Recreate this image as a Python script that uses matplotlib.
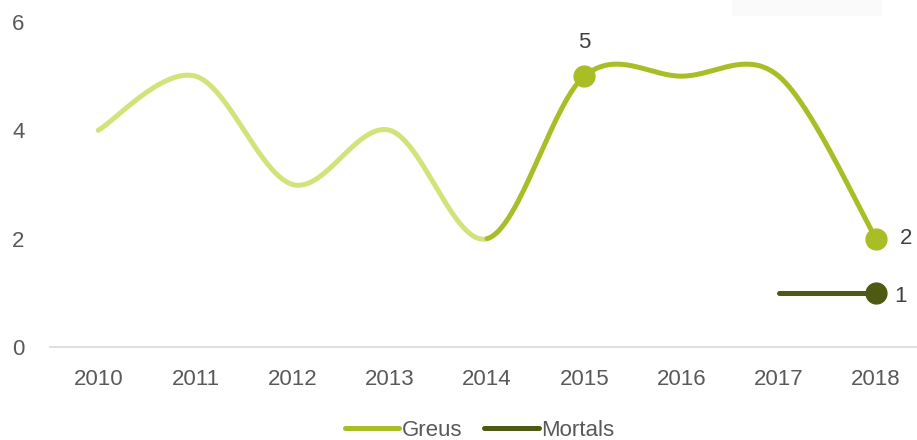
import numpy as np
import matplotlib

matplotlib.use("Agg")
import matplotlib.pyplot as plt
from matplotlib.patches import Rectangle

years = [2010, 2011, 2012, 2013, 2014, 2015, 2016, 2017, 2018]
greus = [4, 5, 3, 4, 2, 5, 5, 5, 2]
mortals_years = [2017, 2018]
mortals = [1, 1]
y_ticks = [0, 2, 4, 6]

LIGHT = "#d4e27a"
GREUS = "#a9bd27"
MORTALS = "#4e5a13"
TEXT = "#595959"
FS = 16

plt.rcParams["font.family"] = ["Liberation Sans", "DejaVu Sans"]


def smooth(xs, ys, n=60):
    # Catmull-Rom through the points, drawn as cubic Bezier pieces
    xs = np.asarray(xs, float)
    ys = np.asarray(ys, float)
    pts = np.column_stack([xs, ys])
    out = []
    for i in range(len(pts) - 1):
        p0 = pts[max(i - 1, 0)]
        p1 = pts[i]
        p2 = pts[i + 1]
        p3 = pts[min(i + 2, len(pts) - 1)]
        c1 = p1 + (p2 - p0) / 6
        c2 = p2 - (p3 - p1) / 6
        t = np.linspace(0, 1, n)[:, None]
        seg = ((1 - t) ** 3) * p1 + 3 * ((1 - t) ** 2) * t * c1 + 3 * (1 - t) * t**2 * c2 + t**3 * p2
        out.append(seg if i == 0 else seg[1:])
    return np.vstack(out)


curve = smooth(years, greus)
split = years.index(2014)

fig = plt.figure(figsize=(9.17, 4.4), dpi=100)
ax = fig.add_axes([0.0541, 0.2114, 0.9542, 0.7386])

n = 60
cut = split * (n - 1) + 1
ax.plot(curve[:cut, 0], curve[:cut, 1], color=LIGHT, lw=3.6, solid_capstyle="round", zorder=2)
ax.plot(curve[cut - 1:, 0], curve[cut - 1:, 1], color=GREUS, lw=3.6, solid_capstyle="round",
        zorder=3, label="Greus")
ax.plot(mortals_years, mortals, color=MORTALS, lw=3.6, solid_capstyle="round", zorder=3, label="Mortals")

# highlighted points with value labels
for yr in (2015, 2018):
    v = greus[years.index(yr)]
    ax.plot(yr, v, "o", ms=15, color=GREUS, zorder=4)
ax.plot(mortals_years[-1], mortals[-1], "o", ms=15, color=MORTALS, zorder=4)

lab_kw = dict(fontsize=FS, color="#404040")
ax.annotate(str(greus[years.index(2015)]), (2015, greus[years.index(2015)]), xytext=(0, 24),
            textcoords="offset points", ha="center", va="center", **lab_kw)
ax.annotate(str(greus[-1]), (2018, greus[-1]), xytext=(22, 0),
            textcoords="offset points", ha="center", va="center", **lab_kw)
ax.annotate(str(mortals[-1]), (2018, mortals[-1]), xytext=(18, -3),
            textcoords="offset points", ha="center", va="center", **lab_kw)

ax.set_xlim(2009.5, 2018.5)
ax.set_ylim(0, 6)
ax.set_xticks(years)
ax.set_yticks(y_ticks)
ax.tick_params(length=0, labelsize=FS, labelcolor=TEXT)
ax.tick_params(axis="x", pad=15.5)
ax.tick_params(axis="y", pad=18)
for s in ("top", "right", "left"):
    ax.spines[s].set_visible(False)
ax.spines["bottom"].set_color("#d9d9d9")
ax.spines["bottom"].set_linewidth(1.2)

leg = fig.legend(loc="center", bbox_to_anchor=(0.523, 0.022), ncol=2, frameon=False,
                 fontsize=FS, handlelength=2.45, handletextpad=0.12, columnspacing=1.0,
                 labelcolor=TEXT)

fig.patches.append(Rectangle((732 / 917, 1 - 16 / 440), 150 / 917, 16 / 440,
                             transform=fig.transFigure, fc="#fafafa", ec="none"))

fig.savefig("out.png", dpi=100)
plt.close(fig)
